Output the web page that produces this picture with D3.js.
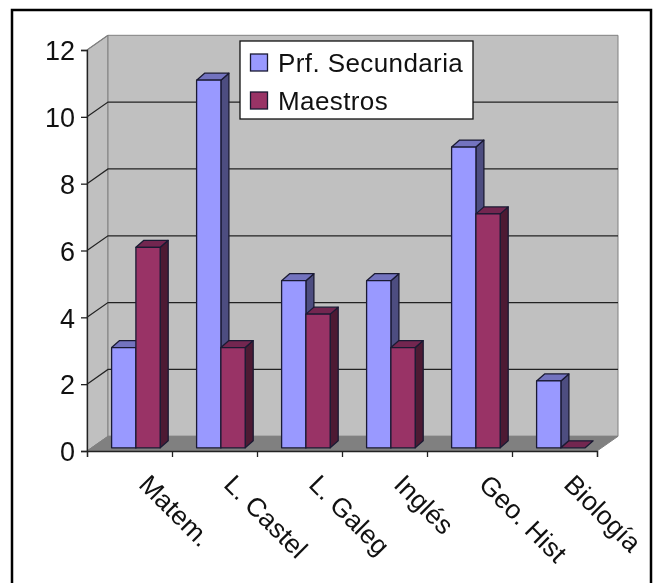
<!DOCTYPE html>
<html><head><meta charset="utf-8">
<script src="https://cdn.jsdelivr.net/npm/d3@7"></script>
<style>html,body{margin:0;padding:0;background:#fff}svg{display:block;filter:blur(0.4px)}text{font-family:"Liberation Sans",Arial,sans-serif;fill:#111}</style>
</head><body><svg id="c" width="663" height="583"></svg>
<script>
const categories = ["Matem.","L. Castel","L. Galeg","Inglés","Geo. Hist","Biología"];
const secundaria = [3,11,5,5,9,2];
const maestros = [6,3,4,3,7,0];
const seriesNames = ["Prf. Secundaria","Maestros"];
const yTicks = [0,2,4,6,8,10,12];

const svg = d3.select("#c");
const x = d3.scaleBand().domain(categories).range([87,597]);
const y = d3.scaleLinear().domain([0,12]).range([451,50]);
const wallDx = 21, wallDy = -14.7;
const barOffX = 3.6, barOffY = -3.2, barDx = 8, barDy = -7;
const barW = 24.3, barStart = 21;
const colors = [
 {front:"#9999ff",side:"#4d4d80",top:"#7373bf"},
 {front:"#993366",side:"#4d1a33",top:"#732650"}];

svg.append("rect").attr("x",12).attr("y",10).attr("width",639).attr("height",590)
  .attr("fill","#fff").attr("stroke","#000").attr("stroke-width",2.5);

const poly = pts => pts.map(p=>p.join(",")).join(" ");
const [x0,x1] = x.range(), yb = y(0), yt = y(12);
svg.append("polygon").attr("points",poly([[x0,yb],[x0+wallDx,yb+wallDy],[x0+wallDx,yt+wallDy],[x0,yt]]))
  .attr("fill","#c0c0c0").attr("stroke","#808080");
svg.append("polygon").attr("points",poly([[x0+wallDx,yb+wallDy],[x1+wallDx,yb+wallDy],[x1+wallDx,yt+wallDy],[x0+wallDx,yt+wallDy]]))
  .attr("fill","#c0c0c0").attr("stroke","#808080");
svg.append("polygon").attr("points",poly([[x0,yb],[x0+wallDx,yb+wallDy],[x1+wallDx,yb+wallDy],[x1,yb]]))
  .attr("fill","#808080").attr("stroke","#808080");

svg.append("g").selectAll("polyline").data(yTicks.filter(v=>v>0)).join("polyline")
  .attr("points",v=>poly(v===12?[[x0,y(v)],[x0+wallDx,y(v)+wallDy]]:[[x0,y(v)],[x0+wallDx,y(v)+wallDy],[x1+wallDx,y(v)+wallDy]]))
  .attr("fill","none").attr("stroke",v=>v===12?"#808080":"#222").attr("stroke-width",1.2);

const g = svg.append("g").attr("stroke","#1a1a33").attr("stroke-width",1.3).attr("stroke-linejoin","round");
function bar(cat,val,idx){
  const c = colors[idx];
  const l = x(cat)+barStart+barOffX+idx*barW, r = l+barW;
  const b = y(0)+barOffY, t = y(val)+barOffY;
  if(val>0){
    g.append("polygon").attr("points",poly([[r,b],[r+barDx,b+barDy],[r+barDx,t+barDy],[r,t]])).attr("fill",c.side);
    g.append("polygon").attr("points",poly([[l,t],[l+barDx,t+barDy],[r+barDx,t+barDy],[r,t]])).attr("fill",c.top);
    g.append("rect").attr("x",l).attr("y",t).attr("width",barW).attr("height",b-t).attr("fill",c.front);
  } else {
    g.append("polygon").attr("points",poly([[l,t],[l+barDx,t+barDy],[r+barDx,t+barDy],[r,t]])).attr("fill",c.top);
  }
}
categories.forEach((cat,i)=>{ bar(cat,secundaria[i],0); bar(cat,maestros[i],1); });

const ay = svg.append("g").attr("transform",`translate(${x0},0)`)
  .call(d3.axisLeft(y).tickValues(yTicks).tickSize(6).tickPadding(6).tickFormat(d3.format("d")));
ay.selectAll("text").attr("font-size",27).attr("dy","0.36em").style("font-family",'"Liberation Sans"');
const ax = svg.append("g").attr("transform",`translate(0,${yb})`)
  .call(d3.axisBottom(d3.scalePoint().domain(d3.range(7)).range([x0,x1])).tickSize(6).tickFormat(""));
[ay,ax].forEach(a=>{a.selectAll("path,line").attr("stroke","#222").attr("stroke-width",1.3);});

svg.append("g").selectAll("text").data(categories).join("text")
  .attr("transform",d=>`translate(${x(d)+x.bandwidth()/2+8},${yb+35}) rotate(45)`)
  .attr("font-size",26.5).text(d=>d);

const lg = svg.append("g");
lg.append("rect").attr("x",240).attr("y",41).attr("width",233).attr("height",78)
  .attr("fill","#fff").attr("stroke","#111").attr("stroke-width",1.3);
seriesNames.forEach((n,i)=>{
  const yy = 54+i*38;
  lg.append("rect").attr("x",250.5).attr("y",yy).attr("width",17).attr("height",17)
    .attr("fill",colors[i].front).attr("stroke","#1a1a33").attr("stroke-width",1.3);
  lg.append("text").attr("x",278).attr("y",yy+18).attr("font-size",26).attr("letter-spacing",0.4).text(n);
});
</script></body></html>
